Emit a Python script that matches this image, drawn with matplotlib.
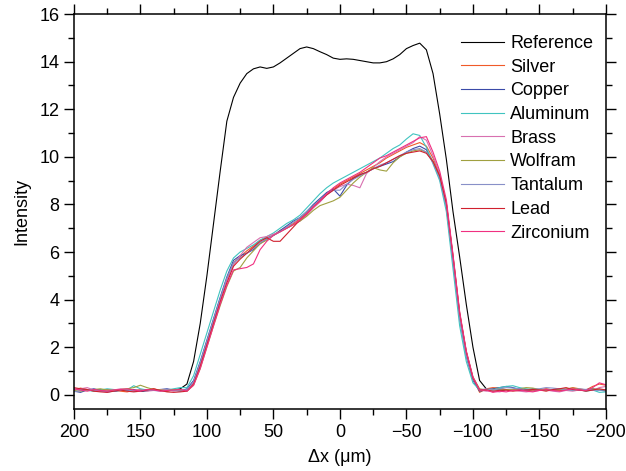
import matplotlib
matplotlib.use("Agg")
import matplotlib.pyplot as plt
from matplotlib.ticker import MultipleLocator
import numpy as np

plt.rcParams['font.family'] = ['Liberation Sans', 'DejaVu Sans']

# sampling positions, 200 .. -200 um in 5 um steps
dx = np.arange(200, -201, -5)

# each list: left baseline (200..120), profile (115..-110), right baseline (-115..-200)
reference = [0.22, 0.25, 0.2, 0.18, 0.2, 0.17, 0.15, 0.18, 0.2, 0.16, 0.14, 0.17, 0.2, 0.18, 0.16, 0.2, 0.25,
             0.45, 1.4, 3.0, 5.0, 7.2, 9.4, 11.5, 12.5, 13.1, 13.5, 13.7, 13.78, 13.72, 13.78, 13.95, 14.15,
             14.35, 14.55, 14.62, 14.55, 14.42, 14.3, 14.15, 14.1, 14.12, 14.1, 14.05, 14.0, 13.95, 13.95,
             14.0, 14.12, 14.3, 14.55, 14.68, 14.78, 14.5, 13.5, 11.8, 9.9, 7.7, 5.8, 3.8, 2.0, 0.6, 0.25,
             0.22, 0.2, 0.18, 0.21, 0.24, 0.2, 0.17, 0.2, 0.23, 0.21, 0.18, 0.2, 0.22, 0.19, 0.17, 0.2, 0.22, 0.2]
silver = [0.2, 0.28, 0.22, 0.15, 0.18, 0.22, 0.2, 0.15, 0.12, 0.18, 0.22, 0.2, 0.25, 0.18, 0.15, 0.2, 0.18,
          0.2, 0.5, 1.3, 2.2, 3.1, 4.0, 4.85, 5.55, 5.8, 6.05, 6.25, 6.5, 6.6, 6.7, 6.9, 7.05, 7.2, 7.4,
          7.65, 7.95, 8.2, 8.45, 8.65, 8.85, 9.0, 9.15, 9.3, 9.45, 9.6, 9.75, 9.95, 10.1, 10.25, 10.4,
          10.5, 10.6, 10.45, 9.95, 9.25, 8.05, 5.8, 3.4, 1.8, 0.7, 0.1, 0.25,
          0.3, 0.28, 0.2, 0.22, 0.25, 0.2, 0.18, 0.22, 0.25, 0.2, 0.18, 0.22, 0.3, 0.25, 0.2, 0.35, 0.45, 0.4]
copper = [0.15, 0.1, 0.2, 0.25, 0.18, 0.12, 0.15, 0.2, 0.18, 0.22, 0.15, 0.18, 0.2, 0.22, 0.25, 0.2, 0.15,
          0.25, 0.6, 1.4, 2.3, 3.2, 4.1, 4.95, 5.65, 5.85, 5.95, 6.1, 6.35, 6.55, 6.7, 6.9, 7.1, 7.3, 7.45,
          7.7, 8.0, 8.25, 8.5, 8.65, 8.35, 8.8, 9.1, 9.25, 9.35, 9.5, 9.6, 9.7, 9.8, 10.0, 10.2,
          10.35, 10.45, 10.3, 9.8, 9.1, 7.9, 5.6, 3.2, 1.6, 0.6, 0.15, 0.2,
          0.25, 0.3, 0.35, 0.3, 0.22, 0.2, 0.25, 0.22, 0.18, 0.2, 0.25, 0.22, 0.2, 0.18, 0.22, 0.25, 0.2, 0.15]
aluminum = [0.25, 0.2, 0.18, 0.15, 0.2, 0.25, 0.22, 0.18, 0.2, 0.38, 0.25, 0.2, 0.18, 0.22, 0.2, 0.25, 0.3,
            0.3, 0.8, 1.7, 2.6, 3.5, 4.4, 5.2, 5.75, 6.0, 6.15, 6.3, 6.5, 6.65, 6.8, 7.0, 7.2, 7.35, 7.55,
            7.85, 8.15, 8.45, 8.7, 8.9, 9.05, 9.2, 9.35, 9.5, 9.65, 9.8, 9.95, 10.15, 10.35, 10.5, 10.75,
            10.97, 10.9, 10.4, 9.7, 9.0, 7.7, 5.3, 2.9, 1.4, 0.5, 0.2, 0.2,
            0.2, 0.3, 0.35, 0.38, 0.3, 0.25, 0.22, 0.2, 0.18, 0.22, 0.25, 0.2, 0.18, 0.22, 0.15, 0.2, 0.1, 0.12]
brass = [0.2, 0.25, 0.3, 0.2, 0.15, 0.18, 0.2, 0.25, 0.22, 0.18, 0.2, 0.15, 0.18, 0.22, 0.2, 0.15, 0.2,
         0.2, 0.5, 1.25, 2.15, 3.05, 3.95, 4.8, 5.45, 5.85, 6.2, 6.4, 6.6, 6.65, 6.75, 6.85, 7.0, 7.15, 7.3,
         7.55, 7.85, 8.1, 8.4, 8.6, 8.75, 8.85, 8.8, 8.7, 9.3, 9.55, 9.8, 10.0, 10.15, 10.3, 10.45,
         10.6, 10.85, 10.7, 10.05, 9.3, 8.0, 5.7, 3.3, 1.7, 0.7, 0.2, 0.15,
         0.15, 0.12, 0.18, 0.2, 0.15, 0.12, 0.15, 0.18, 0.2, 0.15, 0.12, 0.18, 0.15, 0.2, 0.22, 0.18, 0.3, 0.35]
wolfram = [0.18, 0.15, 0.2, 0.22, 0.25, 0.2, 0.18, 0.22, 0.25, 0.3, 0.4, 0.3, 0.22, 0.2, 0.18, 0.22, 0.2,
           0.15, 0.4, 1.1, 2.0, 2.9, 3.75, 4.55, 5.2, 5.35, 5.75, 6.05, 6.35, 6.5, 6.7, 6.85, 7.0, 7.15, 7.3,
           7.5, 7.75, 7.95, 8.05, 8.15, 8.3, 8.6, 8.9, 9.15, 9.35, 9.55, 9.45, 9.4, 9.75, 10.0, 10.15,
           10.25, 10.3, 10.2, 9.8, 9.2, 8.05, 5.8, 3.4, 1.8, 0.75, 0.25, 0.2,
           0.22, 0.25, 0.22, 0.2, 0.25, 0.3, 0.28, 0.22, 0.2, 0.18, 0.22, 0.25, 0.28, 0.22, 0.2, 0.25, 0.22, 0.2]
tantalum = [0.12, 0.18, 0.22, 0.2, 0.15, 0.12, 0.15, 0.18, 0.2, 0.15, 0.18, 0.22, 0.18, 0.15, 0.2, 0.18, 0.15,
            0.2, 0.55, 1.35, 2.25, 3.15, 4.05, 4.9, 5.55, 5.75, 5.95, 6.15, 6.4, 6.55, 6.7, 6.85, 7.05, 7.25, 7.45,
            7.7, 7.95, 8.2, 8.45, 8.6, 8.6, 8.85, 9.05, 9.2, 9.35, 9.5, 9.65, 9.75, 9.9, 10.05, 10.2,
            10.3, 10.35, 10.2, 9.75, 9.1, 7.9, 5.6, 3.25, 1.65, 0.65, 0.2, 0.25,
            0.2, 0.25, 0.3, 0.28, 0.25, 0.2, 0.22, 0.25, 0.3, 0.28, 0.25, 0.22, 0.2, 0.25, 0.22, 0.2, 0.18, 0.22]
lead = [0.3, 0.25, 0.22, 0.15, 0.12, 0.1, 0.15, 0.2, 0.15, 0.12, 0.15, 0.2, 0.25, 0.18, 0.12, 0.1, 0.12,
        0.15, 0.45, 1.2, 2.1, 3.0, 3.9, 4.7, 5.4, 5.7, 5.95, 6.2, 6.45, 6.6, 6.45, 6.45, 6.75, 7.05, 7.35,
        7.6, 7.9, 8.15, 8.4, 8.6, 8.8, 8.95, 9.1, 9.25, 9.35, 9.5, 9.6, 9.75, 9.9, 10.05, 10.15,
        10.2, 10.25, 10.15, 9.8, 9.2, 8.05, 5.85, 3.45, 1.8, 0.7, 0.2, 0.2,
        0.15, 0.18, 0.2, 0.15, 0.18, 0.2, 0.22, 0.2, 0.15, 0.22, 0.25, 0.3, 0.22, 0.2, 0.15, 0.2, 0.25, 0.2]
zirconium = [0.25, 0.2, 0.15, 0.22, 0.18, 0.15, 0.2, 0.22, 0.25, 0.2, 0.15, 0.22, 0.2, 0.15, 0.18, 0.2, 0.22,
             0.15, 0.4, 1.1, 2.0, 2.9, 3.8, 4.6, 5.25, 5.3, 5.35, 5.5, 6.1, 6.45, 6.7, 6.85, 7.0, 7.15, 7.35,
             7.6, 7.9, 8.15, 8.45, 8.7, 8.9, 9.05, 9.2, 9.35, 9.55, 9.75, 9.95, 10.05, 10.2, 10.35, 10.5,
             10.65, 10.8, 10.85, 10.2, 9.4, 8.2, 5.9, 3.5, 1.85, 0.75, 0.2, 0.2,
             0.1, 0.15, 0.12, 0.18, 0.2, 0.15, 0.12, 0.18, 0.22, 0.18, 0.15, 0.2, 0.25, 0.2, 0.18, 0.3, 0.5, 0.42]

names = ['Reference', 'Silver', 'Copper', 'Aluminum', 'Brass', 'Wolfram', 'Tantalum', 'Lead', 'Zirconium']
series = [reference, silver, copper, aluminum, brass, wolfram, tantalum, lead, zirconium]
colors = ['#000000', '#f05a28', '#3a4aa8', '#40c4c0', '#d870b0', '#a0a040', '#8890c8', '#d0202e', '#f03080']

fig = plt.figure(figsize=(6.26, 4.71), dpi=100)
ax = fig.add_axes([0.118, 0.1316, 0.850, 0.8384])

for name, ys, c in zip(names, series, colors):
    ax.plot(dx, ys, color=c, lw=0.8, label=name)

ax.set_xlim(200, -200)
ax.set_ylim(-0.6, 16)
ax.xaxis.set_major_locator(MultipleLocator(50))
ax.xaxis.set_minor_locator(MultipleLocator(25))
ax.yaxis.set_major_locator(MultipleLocator(2))
ax.yaxis.set_minor_locator(MultipleLocator(1))
ax.tick_params(which='both', direction='out', top=True, right=True, labelsize=13, width=1.0)
ax.tick_params(which='major', length=7)
ax.tick_params(which='minor', length=4)
for s in ax.spines.values():
    s.set_linewidth(1.1)

ax.set_xlabel('\u0394x (\u03bcm)', fontsize=13, labelpad=6)
ax.set_ylabel('Intensity', fontsize=13, labelpad=6)

ax.legend(loc='upper left', bbox_to_anchor=(0.727, 0.947), frameon=False, fontsize=13,
          handlelength=2.4, handletextpad=0.35, labelspacing=0.37, borderpad=0, borderaxespad=0)

fig.savefig('out.png', dpi=100)
